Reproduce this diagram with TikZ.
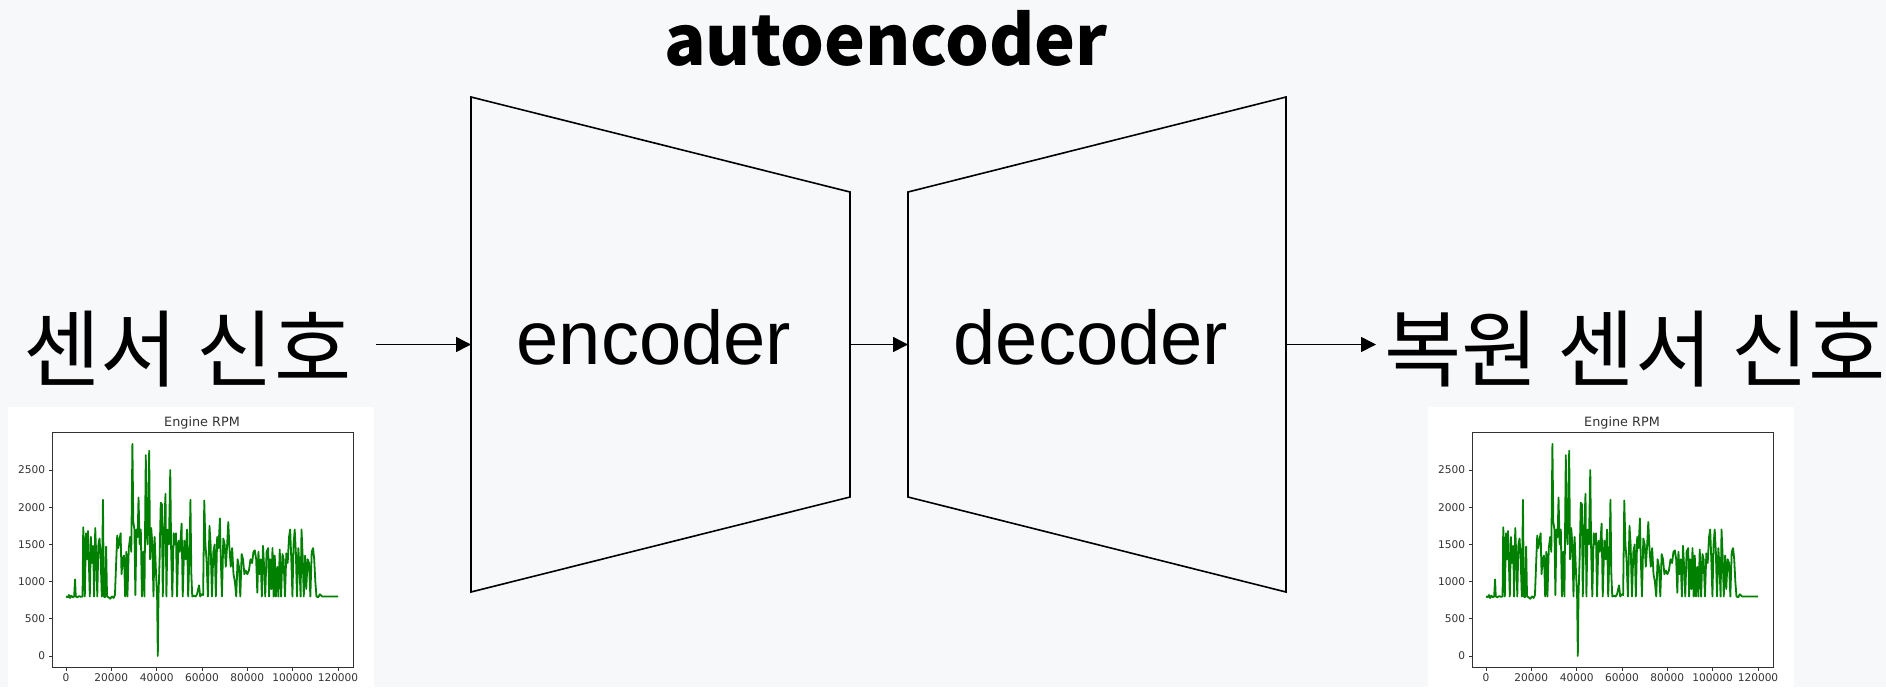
\documentclass[tikz,border=0pt]{standalone}
\usepackage{fontspec}
\usetikzlibrary{arrows.meta}

\newfontfamily\hangul{Noto Sans CJK KR}
\newfontfamily\arial{Liberation Sans}
\newfontfamily\mplfont{DejaVu Sans}

\definecolor{bg}{HTML}{F7F8FA}
\definecolor{mplgreen}{HTML}{008000}
\definecolor{mplgray}{HTML}{333333}

\tikzset{
  flow/.style={-{Triangle[length=7.5pt,width=7.5pt]}, line width=0.8pt},
  block/.style={line width=0.8pt, line join=miter},
  blocktext/.style={font=\arial\fontsize{38}{40}\selectfont, inner sep=0, anchor=base},
  hangtext/.style={font=\hangul\fontsize{42}{44}\selectfont, inner sep=0},
  titletext/.style={font=\hangul\bfseries\fontsize{34.5}{36}\selectfont, inner sep=0, anchor=base},
  ticklabel/.style={font=\mplfont\fontsize{5.3}{6.5}\selectfont, text=mplgray, inner sep=0},
  plottitle/.style={font=\mplfont\fontsize{6.4}{7}\selectfont, text=mplgray, inner sep=0}
}

\begin{document}
\begin{tikzpicture}[x=0.5pt, y=-0.5pt]
  % canvas
  \fill[bg] (0,0) rectangle (1886,687);
  \useasboundingbox (0,0) rectangle (1886,687);

  \node[titletext] (title) at (886,65) {autoencoder};

  % encoder / decoder blocks
  \coordinate (enc-nw) at (471,97);
  \coordinate (enc-ne) at (850,192);
  \coordinate (enc-se) at (850,497);
  \coordinate (enc-sw) at (471,592);
  \coordinate (enc-w) at (471,344.5);
  \coordinate (enc-e) at (850,344.5);
  \draw[block] (enc-nw) -- (enc-ne) -- (enc-se) -- (enc-sw) -- cycle;
  \node[blocktext] (enc) at (654,364) {encoder};

  \coordinate (dec-nw) at (908,192);
  \coordinate (dec-ne) at (1286,97);
  \coordinate (dec-se) at (1286,592);
  \coordinate (dec-sw) at (908,497);
  \coordinate (dec-w) at (908,344.5);
  \coordinate (dec-e) at (1286,344.5);
  \draw[block] (dec-nw) -- (dec-ne) -- (dec-se) -- (dec-sw) -- cycle;
  \node[blocktext] (dec) at (1091,364) {decoder};

  % input and output labels
  \node[hangtext] (src) at (187.5,349) {센서 신호};
  \node[hangtext, anchor=west] (rec) at (1384,349) {복원 센서 신호};

  \draw[flow] ([xshift=12pt]src.east |- enc-w) -- (enc-w);
  \draw[flow] (enc-e) -- (dec-w);
  \draw[flow] (dec-e) -- ([xshift=-4pt]rec.west |- dec-e);

  % the two rpm plots (x ticks in thousands)
  \foreach \px in {0,1420}{
    \begin{scope}[shift={(\px,0)}]
      \fill[white] (8,407) rectangle (374,687);
      \node[plottitle] (rpm-title-\px) at (202,423) {Engine RPM};
      \foreach \v in {0,500,...,2500}
        \draw[mplgray, line width=0.4pt] (52,{656-\v*0.0744}) -- ++(-3.5,0)
          node[ticklabel, anchor=east, xshift=-1.5pt] {\v};
      \foreach \k/\t in {0/0,20/20000,40/40000,60/60000,80/80000,100/100000,120/120000}
        \draw[mplgray, line width=0.4pt] ({66+\k*2.2667},667) -- ++(0,3.5)
          node[ticklabel, anchor=north, yshift=-1.5pt] {\t};
      \begin{scope}[shift={(66,656)}, x=1.13333pt, y=0.0372pt]
        \draw[mplgreen, line width=0.9pt, line join=round]
          (0,800) -- (0.8,790) -- (1.3,820) -- (1.8,780) -- (2.4,810) -- (3,790) -- (3.6,800) -- (4,1030) -- (4.3,800) -- (5,790) -- (5.8,805) -- (6.6,795) -- (7.3,800)
          -- (7.6,1730) -- (8,1400) -- (8.3,800) -- (8.8,1650) -- (9.2,1300) -- (9.7,1680) -- (10.1,1250) -- (10.5,800) -- (11,1600) -- (11.5,1250) -- (12,1480) -- (12.4,800) -- (12.9,1720) -- (13.4,1300) -- (13.8,800) -- (14.3,1500) -- (14.8,1580) -- (15.3,1300) -- (15.8,800) -- (16.3,2100) -- (16.7,800) -- (17.2,790) -- (17.7,1470) -- (18.1,800)
          -- (18.8,790) -- (19.5,770) -- (20.3,800) -- (21,780) -- (21.6,820)
          -- (22,1150) -- (22.6,1620) -- (23.1,1450) -- (23.6,1560) -- (24.1,1650) -- (24.5,1100) -- (25,1300) -- (25.6,1350) -- (26.1,800) -- (26.6,1400) -- (27.1,800) -- (27.7,1450) -- (28.3,1600) -- (28.8,1400) -- (29.3,2850) -- (29.7,1800) -- (30.2,1700) -- (30.6,820) -- (31.1,1700) -- (31.6,1600) -- (32,2130) -- (32.5,1500) -- (33,1700) -- (33.5,800) -- (34.1,1400) -- (34.6,800) -- (35.2,2700) -- (35.6,1650) -- (36,1500) -- (36.7,2760) -- (37.1,1300) -- (37.6,1720) -- (38.1,1500) -- (38.6,800) -- (39.1,1600) -- (39.6,1200) -- (40.2,790) -- (40.5,0) -- (40.8,800) -- (41.3,1300) -- (41.8,2060) -- (42.3,2040) -- (42.7,800) -- (43.3,1700) -- (43.9,2180) -- (44.3,800) -- (44.8,1700) -- (45.4,1500) -- (46,2500) -- (46.4,1400) -- (46.9,800) -- (47.5,1650) -- (48,1500) -- (48.5,1650) -- (49,800) -- (49.6,1550) -- (50.2,1400) -- (51,1780) -- (51.5,800) -- (52.2,1550) -- (52.8,1300) -- (53.4,1700) -- (53.9,800) -- (54.5,1400) -- (54.9,2100) -- (55.3,1100) -- (55.7,800)
          -- (56.4,810) -- (57.2,800) -- (57.8,830) -- (58.7,950) -- (59.2,800) -- (59.8,830) -- (60.5,820)
          -- (61,2090) -- (61.5,1500) -- (62,1300) -- (62.6,800) -- (63.3,1750) -- (63.8,1500) -- (64.4,800) -- (65,1400) -- (65.6,1500) -- (66.1,800) -- (66.7,1600) -- (67.3,1450) -- (67.9,1850) -- (68.3,1300) -- (68.8,800) -- (69.4,1580) -- (70,1500) -- (70.5,1200) -- (71.1,1500) -- (71.6,1800) -- (72.1,1450) -- (72.7,1200) -- (73.3,1450) -- (73.9,1100) -- (74.5,1000) -- (75.1,800) -- (75.7,1300) -- (76.3,1200) -- (76.9,800) -- (77.5,1370) -- (78.1,1300) -- (78.7,1100) -- (79.3,1150) -- (80,1100) -- (80.7,1150) -- (81.4,1300) -- (82.1,1250) -- (82.7,1400) -- (83.3,1420) -- (83.9,1300) -- (84.4,850) -- (84.9,1400) -- (85.4,1100) -- (85.9,1300) -- (86.4,800) -- (86.9,1480) -- (87.4,1200) -- (87.9,800) -- (88.5,1400) -- (89.2,1450) -- (89.6,800) -- (90.1,1300) -- (90.6,900) -- (91.1,1450) -- (91.6,800) -- (92.1,1350) -- (92.6,800) -- (93.2,1200) -- (93.7,800) -- (94.3,1430) -- (94.9,800) -- (95.5,1370) -- (96,1300) -- (96.6,800) -- (97.2,1380) -- (97.8,1250) -- (98.4,1600) -- (98.9,1700) -- (99.4,1300) -- (99.9,800) -- (100.4,1500) -- (100.9,1700) -- (101.4,1400) -- (101.9,800) -- (102.5,1450) -- (103,1200) -- (103.5,800) -- (103.9,1700) -- (104.4,1350) -- (104.9,800) -- (105.5,1350) -- (106,900) -- (106.6,1300) -- (107.2,1250) -- (107.8,800) -- (108.4,1400) -- (109,1450) -- (109.5,1300) -- (110,1000) -- (110.5,800)
          -- (111.3,790) -- (112,830) -- (113,800) -- (120,800);
      \end{scope}
      \draw[mplgray, line width=0.4pt] (52,432) rectangle (353,667);
    \end{scope}
  }
\end{tikzpicture}
\end{document}
